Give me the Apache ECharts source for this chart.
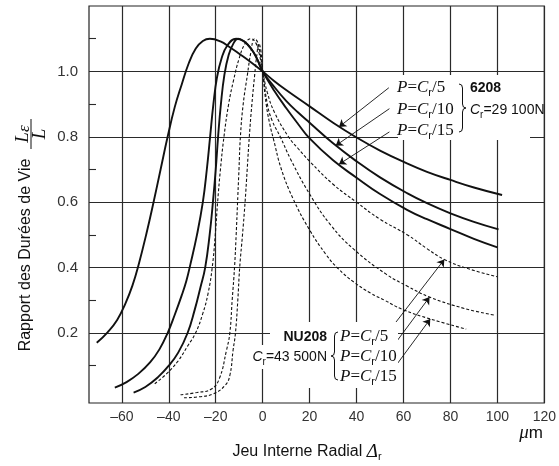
<!DOCTYPE html>
<html>
<head>
<meta charset="utf-8">
<script src="https://cdn.jsdelivr.net/npm/echarts@6/dist/echarts.min.js"></script>
<style>
html, body { margin: 0; padding: 0; background: #fff; }
#chart { width: 559px; height: 466px; }
</style>
</head>
<body>
<div id="chart"></div>
<script>
// valeurs : [jeu radial (µm), rapport Lε/L]
// 6208 (billes) - trait plein
var ball_P5 = [[-70.7,0.17],[-66,0.203],[-62,0.24],[-58.5,0.29],[-55.5,0.345],[-53,0.405],[-49.5,0.505],[-46.5,0.60],[-43.5,0.70],[-40.5,0.80],[-37.5,0.89],[-34.5,0.96],[-31.5,1.025],[-28.5,1.07],[-25.5,1.093],[-22.5,1.10],[-18,1.092],[-14,1.074],[-10,1.054],[-5,1.028],[0,1.0],[5,0.97],[10,0.943],[20,0.893],[30,0.843],[40,0.798],[50,0.758],[61.7,0.718],[70,0.693],[80,0.668],[90,0.645],[102,0.622]];
var ball_P10 = [[-63,0.033],[-58,0.05],[-53,0.075],[-48,0.11],[-44,0.15],[-40.5,0.2],[-37.5,0.255],[-34.5,0.315],[-32.5,0.36],[-30.8,0.41],[-28,0.5],[-25.5,0.6],[-23.8,0.7],[-22.4,0.8],[-21,0.9],[-19.5,0.98],[-17.5,1.04],[-15,1.08],[-11.3,1.10],[-8,1.092],[-5,1.07],[-2.5,1.04],[0,1.0],[5,0.952],[10,0.91],[15,0.875],[20,0.843],[30,0.78],[40,0.725],[50,0.676],[61.7,0.627],[70,0.597],[80,0.566],[90,0.54],[100.5,0.517]];
var ball_P15 = [[-55,0.018],[-50,0.035],[-44.6,0.065],[-40,0.1],[-36,0.14],[-32,0.2],[-29,0.27],[-26.5,0.34],[-24.5,0.4],[-22.6,0.5],[-21.2,0.6],[-20,0.7],[-19,0.8],[-17.8,0.9],[-16.3,0.99],[-14.5,1.05],[-12.5,1.085],[-10.5,1.10],[-8,1.092],[-5,1.07],[-2.5,1.04],[0,1.0],[5,0.94],[10,0.888],[15,0.84],[20,0.795],[30,0.728],[40,0.675],[50,0.625],[61.7,0.576],[70,0.548],[80,0.518],[90,0.488],[100,0.462]];
// NU208 (rouleaux) - pointillé
var roller_P5 = [[-46,0.045],[-41,0.075],[-36,0.115],[-32,0.16],[-28.6,0.2],[-25.5,0.26],[-23.3,0.32],[-21.5,0.4],[-20.2,0.5],[-19.2,0.6],[-18,0.7],[-16.5,0.8],[-14.5,0.9],[-12.5,0.97],[-10,1.04],[-7.5,1.085],[-5,1.10],[-3,1.088],[-1.5,1.055],[0,1.0],[2,0.935],[5,0.875],[11,0.8],[15,0.765],[20,0.725],[30,0.655],[40,0.60],[50,0.548],[61.7,0.50],[70,0.458],[77.4,0.425],[87.4,0.397],[100,0.372]];
var roller_P10 = [[-35,0.011],[-28,0.018],[-22,0.028],[-18.5,0.06],[-15.4,0.148],[-14,0.2],[-13,0.3],[-12,0.4],[-11.3,0.5],[-10.7,0.6],[-10.1,0.7],[-9.5,0.8],[-8.3,0.9],[-6.5,0.99],[-5,1.06],[-3.5,1.10],[-2.2,1.09],[-1,1.05],[0,1.0],[2,0.9],[4,0.85],[7.5,0.8],[12,0.73],[20,0.625],[29,0.53],[39,0.455],[52.6,0.38],[61.7,0.343],[71.1,0.31],[86,0.275],[98.5,0.255]];
var roller_P15 = [[-33.5,0.002],[-27,0.005],[-21,0.014],[-16,0.04],[-14,0.07],[-12.6,0.148],[-11.6,0.2],[-10.6,0.3],[-9.8,0.4],[-8.6,0.5],[-7.5,0.6],[-6.6,0.7],[-5.7,0.8],[-4.6,0.9],[-3.4,0.99],[-2.5,1.05],[-1.6,1.085],[-0.8,1.065],[0,1.0],[1.5,0.9],[3,0.84],[4.7,0.79],[8,0.7],[13,0.61],[20,0.515],[27,0.44],[32,0.398],[39,0.355],[46,0.322],[52,0.3],[59.6,0.272],[71.4,0.243],[86.7,0.212]];

// flèches des annotations [départ, pointe]
var arrow_ball = [[[53.75,0.95],[32.5,0.83]], [[54,0.886],[31.1,0.773]], [[54,0.815],[32.5,0.716]]];
var arrow_roller = [[[54.7,0.214],[77.4,0.425]], [[55.4,0.158],[71.1,0.31]], [[55.4,0.087],[71.4,0.243]]];

var xTicks = [-60,-40,-20,0,20,40,60,80,100,120];
var yTicks = [0.2,0.4,0.6,0.8,1.0];
var yMinor = [0.1,0.3,0.5,0.7,0.9,1.1];

var SANS = "'Liberation Sans',Arial,sans-serif";
var SERIF = "'Liberation Serif','DejaVu Serif',serif";
var INK = '#111';
var GRID = '#2a2a2a';

function curve(data, dashed, arrow) {
  return {
    type: 'line',
    data: data,
    symbol: 'none',
    smooth: 0.45,
    z: 3,
    lineStyle: { color: INK, width: dashed ? 1.1 : 1.9, type: dashed ? [3, 2] : 'solid' },
    markLine: {
      silent: true,
      symbol: ['none', 'arrow'],
      symbolSize: 7,
      label: { show: false },
      lineStyle: { color: INK, width: 0.9, type: 'solid' },
      data: [[{ coord: arrow[0] }, { coord: arrow[1] }]]
    }
  };
}

// texte "P=Cr/n"
var pRich = {
  i: { fontFamily: SERIF, fontStyle: 'italic', fontSize: 17, lineHeight: 20, fill: INK },
  n: { fontFamily: SERIF, fontSize: 17, lineHeight: 20, fill: INK },
  s: { fontFamily: SANS, fontSize: 11, lineHeight: 12, verticalAlign: 'bottom', fill: INK }
};
var cRich = {
  ci: { fontFamily: SANS, fontStyle: 'italic', fontSize: 14, lineHeight: 20, fill: INK },
  cs: { fontFamily: SANS, fontSize: 10, lineHeight: 12, verticalAlign: 'bottom', fill: INK },
  cn: { fontFamily: SANS, fontSize: 14, lineHeight: 20, fill: INK },
  b: { fontFamily: SANS, fontWeight: 'bold', fontSize: 14, lineHeight: 20, fill: INK }
};
function txt(x, y, text, rich, align) {
  return { type: 'text', z: 110, x: x, y: y,
    style: { text: text, rich: rich, textAlign: align || 'left', textVerticalAlign: 'middle' } };
}
function pText(x, y, n) { return txt(x, y, '{i|P}{n|=}{i|C}{s|r}{n|/' + n + '}', pRich); }
function mask(x, y, w, h) {
  return { type: 'rect', z: 100, shape: { x: x, y: y, width: w, height: h }, style: { fill: '#fff' } };
}
// accolade : pointe à droite (left=false) ou à gauche (left=true)
function brace(x, y, w, h, left) {
  var d = left ? -1 : 1, hw = d * w * 0.5, tw = d * w, m = h / 2;
  var st = { stroke: INK, lineWidth: 1, fill: null };
  function q(x1, y1, cx, cy, x2, y2) {
    return { type: 'bezierCurve', z: 110, shape: { x1: x1, y1: y1, cpx1: cx, cpy1: cy, x2: x2, y2: y2 }, style: st };
  }
  function l(x1, y1, x2, y2) {
    return { type: 'line', z: 110, shape: { x1: x1, y1: y1, x2: x2, y2: y2 }, style: st };
  }
  return { type: 'group', z: 110, x: x, y: y, children: [
    q(0, 0, hw, 0, hw, 4), l(hw, 4, hw, m - 4), q(hw, m - 4, hw, m, tw, m),
    q(tw, m, hw, m, hw, m + 4), l(hw, m + 4, hw, h - 4), q(hw, h - 4, hw, h, 0, h)
  ] };
}

var chart = echarts.init(document.getElementById('chart'));
chart.setOption({
  animation: false,
  backgroundColor: '#fff',
  grid: { left: 89, top: 6, right: 8, bottom: 63, show: true, borderColor: '#222', borderWidth: 1.2 },
  xAxis: {
    type: 'value', min: -74, max: 120,
    axisLine: { show: false },
    axisTick: { show: false, customValues: xTicks },
    axisLabel: { customValues: xTicks, color: '#333', fontFamily: SANS, fontSize: 14, margin: 7,
      formatter: function (v) { return v < 0 ? '–' + Math.abs(v) : String(v); } },
    splitLine: { show: true, lineStyle: { color: GRID, width: 1.2 } }
  },
  yAxis: [{
    type: 'value', min: -0.014, max: 1.2,
    axisLine: { show: false },
    axisTick: { show: false, customValues: yTicks },
    axisLabel: { customValues: yTicks, color: '#333', fontFamily: SANS, fontSize: 15, margin: 11,
      formatter: function (v) { return v.toFixed(1); } },
    splitLine: { show: true, lineStyle: { color: GRID, width: 1.2 } }
  }, {
    type: 'value', min: -0.014, max: 1.2, position: 'left',
    axisLine: { show: false },
    axisLabel: { show: false },
    splitLine: { show: false },
    axisTick: { show: true, inside: true, length: 7, customValues: yMinor, lineStyle: { color: GRID, width: 1.1 } }
  }],
  series: [
    curve(ball_P5, false, arrow_ball[0]),
    curve(ball_P10, false, arrow_ball[1]),
    curve(ball_P15, false, arrow_ball[2]),
    curve(roller_P5, true, arrow_roller[0]),
    curve(roller_P10, true, arrow_roller[1]),
    curve(roller_P15, true, arrow_roller[2])
  ],
  graphic: [
    // annotation 6208
    mask(398, 75, 132, 65),
    pText(397, 88, 5), pText(397, 110, 10), pText(397, 131, 15),
    brace(459, 84, 7, 48, false),
    txt(470, 88, '{b|6208}', cRich),
    txt(470, 110, '{ci|C}{cs|r}{cn|=29 100N}', cRich),
    // annotation NU208
    mask(270, 322, 128, 66),
    mask(249, 345, 21, 24),
    txt(327, 337, '{b|NU208}', cRich, 'right'),
    txt(327, 357, '{ci|C}{cs|r}{cn|=43 500N}', cRich, 'right'),
    brace(338, 332, 7, 48, true),
    pText(340, 337, 5), pText(340, 357, 10), pText(340, 377, 15),
    // titres des axes
    { type: 'text', z: 110, x: 26, y: 255, rotation: Math.PI / 2,
      style: { text: 'Rapport des Durées de Vie', x: 0, y: 0, textAlign: 'center', textVerticalAlign: 'middle',
        font: '16px ' + SANS, fill: INK } },
    { type: 'group', z: 110, x: 31, y: 134, rotation: Math.PI / 2, children: [
      { type: 'text', z: 110, style: { text: '{l|L}{e|ε}', x: 0, y: -8, textAlign: 'center', textVerticalAlign: 'middle',
        rich: { l: { fontFamily: SERIF, fontStyle: 'italic', fontSize: 19, lineHeight: 20, fill: INK },
                e: { fontFamily: SERIF, fontStyle: 'italic', fontSize: 17, lineHeight: 18, verticalAlign: 'bottom', fill: INK } } } },
      { type: 'line', z: 110, shape: { x1: -15, y1: 0, x2: 15, y2: 0 }, style: { stroke: INK, lineWidth: 1 } },
      { type: 'text', z: 110, style: { text: 'L', x: 0, y: 9, textAlign: 'center', textVerticalAlign: 'middle',
        font: 'italic 19px ' + SERIF, fill: INK } }
    ] },
    txt(307, 452, '{t|Jeu Interne Radial }{d|Δ}{ds|r}', {
      t: { fontFamily: SANS, fontSize: 16, lineHeight: 20, fill: INK },
      d: { fontFamily: SERIF, fontStyle: 'italic', fontSize: 19, lineHeight: 20, fill: INK },
      ds: { fontFamily: SANS, fontSize: 11, lineHeight: 12, verticalAlign: 'bottom', fill: INK }
    }, 'center'),
    txt(531, 433, '{u|μ}{m|m}', {
      u: { fontFamily: SERIF, fontStyle: 'italic', fontSize: 19, lineHeight: 20, fill: INK },
      m: { fontFamily: SANS, fontSize: 17, lineHeight: 20, fill: INK }
    }, 'center')
  ]
});
</script>
</body>
</html>
